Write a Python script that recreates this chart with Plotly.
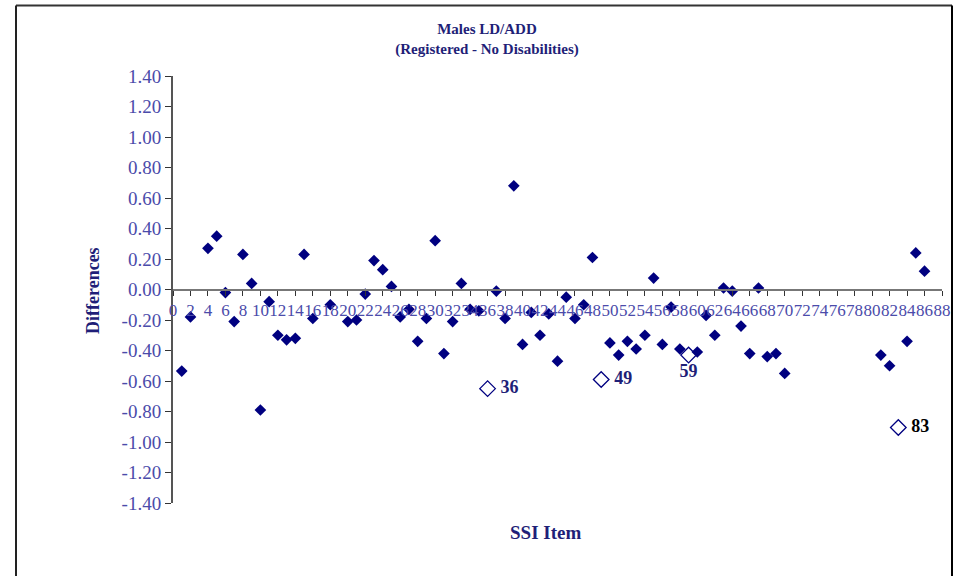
import plotly.graph_objects as go

# ---- data ----
items = [1, 2, 4, 5, 6, 7, 8, 9, 10, 11, 12, 13, 14, 15, 16, 18, 20, 21, 22, 23,
         24, 25, 26, 27, 28, 29, 30, 31, 32, 33, 34, 35, 37, 38, 39, 40, 41, 42,
         43, 44, 45, 46, 47, 48, 50, 51, 52, 53, 54, 55, 56, 57, 58, 60, 61, 62,
         63, 64, 65, 66, 67, 68, 69, 70, 81, 82, 84, 85, 86]
differences = [-0.535, -0.18, 0.27, 0.35, -0.02, -0.21, 0.23, 0.04, -0.79, -0.08,
               -0.30, -0.33, -0.32, 0.23, -0.19, -0.10, -0.21, -0.20, -0.03, 0.19,
               0.13, 0.02, -0.18, -0.13, -0.34, -0.19, 0.32, -0.42, -0.21, 0.04,
               -0.13, -0.14, -0.01, -0.19, 0.68, -0.36, -0.15, -0.30, -0.16, -0.47,
               -0.05, -0.19, -0.10, 0.21, -0.35, -0.43, -0.34, -0.39, -0.30, 0.075,
               -0.36, -0.115, -0.39, -0.41, -0.17, -0.30, 0.01, -0.01, -0.24, -0.42,
               0.01, -0.44, -0.42, -0.55, -0.43, -0.50, -0.34, 0.24, 0.12]

flag_items = [36, 49, 59, 83]
flag_differences = [-0.65, -0.59, -0.43, -0.905]
flag_labels = ["36", "49", "59", "83"]

y_tickvals = [1.4, 1.2, 1.0, 0.8, 0.6, 0.4, 0.2, 0.0, -0.2, -0.4, -0.6, -0.8,
              -1.0, -1.2, -1.4]
y_ticktext = ["1.40", "1.20", "1.00", "0.80", "0.60", "0.40", "0.20", "0.00",
              "-0.20", "-0.40", "-0.60", "-0.80", "-1.00", "-1.20", "-1.40"]
x_tickvals = list(range(0, 89, 2))

# ---- styling ----
NAVY = "#000080"
TXT = "#1f1f78"
TICK = "#4b4baa"
SERIF = "Liberation Serif, Times New Roman, serif"

W, H = 962, 576
L, R, T, B = 173, 20, 76, 73
PW, PH = W - L - R, H - T - B


def px_x(px):
    return (px - L) / PW


def px_y(py):
    return (H - B - py) / PH


fig = go.Figure()

fig.add_trace(go.Scatter(
    x=items, y=differences, mode="markers",
    marker=dict(symbol="diamond", size=9, color=NAVY,
                line=dict(width=0)),
    showlegend=False, hoverinfo="x+y"))

fig.add_trace(go.Scatter(
    x=flag_items, y=flag_differences, mode="markers+text",
    marker=dict(symbol="diamond-open", size=12, color=NAVY,
                line=dict(width=1.3, color=NAVY)),
    text=["<b> " + t + "</b>" if t != "59" else "<b>" + t + "</b>" for t in flag_labels],
    textposition=["middle right", "middle right", "bottom center", "middle right"],
    textfont=dict(family=SERIF, size=18, color=[TXT, TXT, TXT, "#000000"]),
    showlegend=False, hoverinfo="x+y"))

fig.update_layout(
    width=W, height=H,
    margin=dict(l=L, r=R, t=T, b=B, pad=0),
    paper_bgcolor="white", plot_bgcolor="white",
    font=dict(family=SERIF, color=TICK),
    xaxis=dict(
        range=[0, 88], anchor="free", position=0.5,
        tickvals=x_tickvals, ticktext=[str(v) for v in x_tickvals],
        tickangle=0, ticks="outside", ticklen=5, tickwidth=1, tickcolor="#333333",
        tickfont=dict(family=SERIF, size=17, color=TICK),
        showline=True, linecolor="#777777", linewidth=2,
        showgrid=False, zeroline=False),
    yaxis=dict(
        range=[-1.4, 1.4],
        tickvals=y_tickvals, ticktext=y_ticktext,
        ticks="outside", ticklen=6, tickwidth=1, tickcolor="#333333",
        tickfont=dict(family=SERIF, size=19, color=TICK),
        showline=True, linecolor="#555555", linewidth=2,
        showgrid=False, zeroline=False),
    title=dict(
        text="<b>Males LD/ADD</b><br><b>(Registered - No Disabilities)</b>",
        x=487 / W, xanchor="center", xref="container",
        y=1 - 34 / H, yanchor="top", yref="container",
        font=dict(family=SERIF, size=15, color=TXT)),
    annotations=[
        dict(text="<b>Differences</b>", textangle=-90,
             x=px_x(93), y=px_y(291), xref="paper", yref="paper",
             xanchor="center", yanchor="middle",
             showarrow=False, font=dict(family=SERIF, size=18, color=TXT)),
        dict(text="<b>SSI Item</b>",
             x=px_x(545), y=px_y(532), xref="paper", yref="paper",
             xanchor="center", yanchor="middle",
             showarrow=False, font=dict(family=SERIF, size=19, color=TXT)),
    ],
    shapes=[
        dict(type="line", xref="paper", yref="paper",
             x0=px_x(16), x1=px_x(952), y0=px_y(5.5), y1=px_y(5.5),
             line=dict(color="#333333", width=2)),
        dict(type="line", xref="paper", yref="paper",
             x0=px_x(16), x1=px_x(16), y0=px_y(5.5), y1=px_y(580),
             line=dict(color="#222222", width=2)),
        dict(type="line", xref="paper", yref="paper",
             x0=px_x(952), x1=px_x(952), y0=px_y(5.5), y1=px_y(580),
             line=dict(color="#000000", width=2)),
    ],
)

fig.write_html(
    "out.html",
    config={"displayModeBar": False},
    post_script="document.body.style.margin='0';document.body.style.overflow='hidden';",
)
